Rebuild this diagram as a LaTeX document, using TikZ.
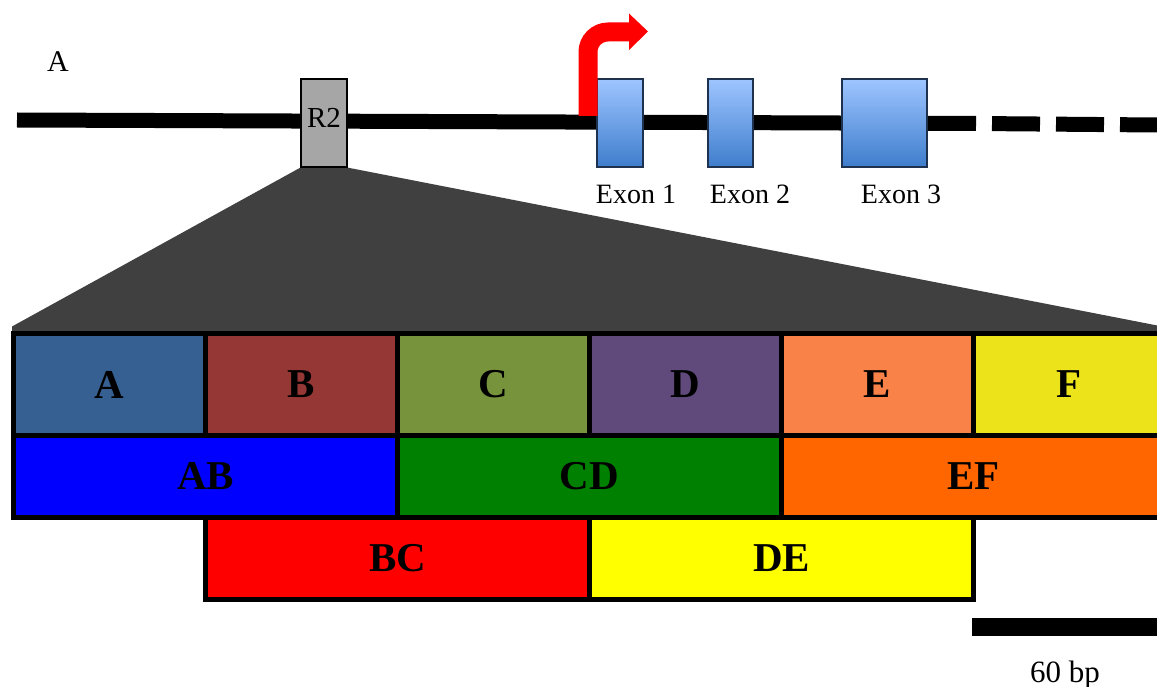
\documentclass[tikz,border=0pt]{standalone}
\usepackage{fontspec}
\newfontfamily\blockfont{Liberation Serif}
\newfontfamily\lblfont{Liberation Serif}
\definecolor{cA}{HTML}{376092}
\definecolor{cB}{HTML}{953735}
\definecolor{cC}{HTML}{77933C}
\definecolor{cD}{HTML}{604A7B}
\definecolor{cE}{HTML}{F98249}
\definecolor{cF}{HTML}{EDE31A}
\definecolor{cAB}{HTML}{0000FF}
\definecolor{cCD}{HTML}{008000}
\definecolor{cEF}{HTML}{FF6600}
\definecolor{cBC}{HTML}{FF0000}
\definecolor{cDE}{HTML}{FFFF00}
\definecolor{exontop}{RGB}{158,197,255}
\definecolor{exonbot}{RGB}{62,125,204}
\definecolor{exonedge}{RGB}{30,50,80}
\definecolor{fan}{HTML}{404040}
\definecolor{rtwo}{HTML}{A6A6A6}
\tikzset{
  cell/.style={draw=black, line width=5pt, inner sep=0pt, minimum width=192pt,
    font=\blockfont\bfseries\fontsize{41}{41}\selectfont},
  rowone/.style={cell, minimum height=102pt},
  rowtwo/.style={cell, minimum height=82pt},
  exonbox/.style={draw=exonedge, line width=1.2pt, top color=exontop, bottom color=exonbot,
    minimum height=88pt, inner sep=0pt},
  lbl/.style={inner sep=0pt, anchor=base, font=\lblfont\fontsize{28}{28}\selectfont},
  rbox/.style={draw=black, line width=1.2pt, fill=rtwo, minimum width=46pt, minimum height=88pt, inner sep=0pt},
  dna/.style={line width=15pt, line cap=butt},
}
\begin{document}
\begin{tikzpicture}[x=1pt,y=-1pt]
\useasboundingbox (0,0) rectangle (1157,687);
\clip (0,0) rectangle (1157,687);
% R2 box (named first so the fan can use its corners)
\node[rbox] (r2) at (324,123) {};
% fan
\fill[fan] (r2.south west) -- (r2.south east) -- (1165,327) -- (1165,336) -- (12,336) -- (12,326.5) -- cycle;
% DNA line
\coordinate (lstart) at (17,120);
\coordinate (lmid) at (976,123.5);
\coordinate (lend) at (1157,125);
\draw[dna] (lstart) -- (lmid);
\draw[dna, dash pattern=on 48pt off 16pt, dash phase=48pt] (lmid) -- (lend);
% R2 redrawn on top of the line
\node[rbox] (r2top) at (324,123) {};
\node[lbl, font=\lblfont\fontsize{29}{29}\selectfont] (r2lbl) at (324,128) {R2};
% exons
\node[exonbox, minimum width=46pt] (ex1) at (620,123) {};
\node[exonbox, minimum width=45pt] (ex2) at (730.5,123) {};
\node[exonbox, minimum width=85pt] (ex3) at (884.5,123) {};
\node[lbl] (ex1lbl) at (636,204) {Exon 1};
\node[lbl] (ex2lbl) at (750,204) {Exon 2};
\node[lbl] (ex3lbl) at (901,204) {Exon 3};
% promoter arrow
\coordinate (pbase) at (588,116);
\coordinate (pcorner) at (588,32);
\coordinate (pend) at (630,32);
\draw[red, line width=19pt, rounded corners=20pt, line cap=butt] (pbase) -- (pcorner) -- (pend);
\fill[red] (629,13.5) -- (648,31.5) -- (629,50) -- cycle;
% label A
\node[lbl, font=\lblfont\fontsize{30}{30}\selectfont] (labA) at (58,72) {A};
% blocks row 1
\node[rowone, fill=cA] (A) at (109.5,384.5) {A};
\node[rowone, fill=cB] (B) at (301.5,384.5) {B};
\node[rowone, fill=cC] (C) at (493.5,384.5) {C};
\node[rowone, fill=cD] (D) at (685.5,384.5) {D};
\node[rowone, fill=cE] (E) at (877.5,384.5) {E};
\node[rowone, fill=cF] (F) at (1069.5,384.5) {F};
% row 2
\node[rowtwo, fill=cAB, minimum width=384pt] (AB) at (205.5,476.5) {AB};
\node[rowtwo, fill=cCD, minimum width=384pt] (CD) at (589.5,476.5) {CD};
\node[rowtwo, fill=cEF, minimum width=384pt] (EF) at (973.5,476.5) {EF};
% row 3
\node[rowtwo, fill=cBC, minimum width=384pt] (BC) at (397.5,558.5) {BC};
\node[rowtwo, fill=cDE, minimum width=384pt] (DE) at (781.5,558.5) {DE};
% scale bar
\coordinate (sb1) at (972,627);
\coordinate (sb2) at (1160,627);
\draw[line width=18pt, line cap=butt] (sb1) -- (sb2);
\node[lbl, font=\lblfont\fontsize{31}{31}\selectfont] (sblbl) at (1065,682) {60 bp};
\end{tikzpicture}
\end{document}
